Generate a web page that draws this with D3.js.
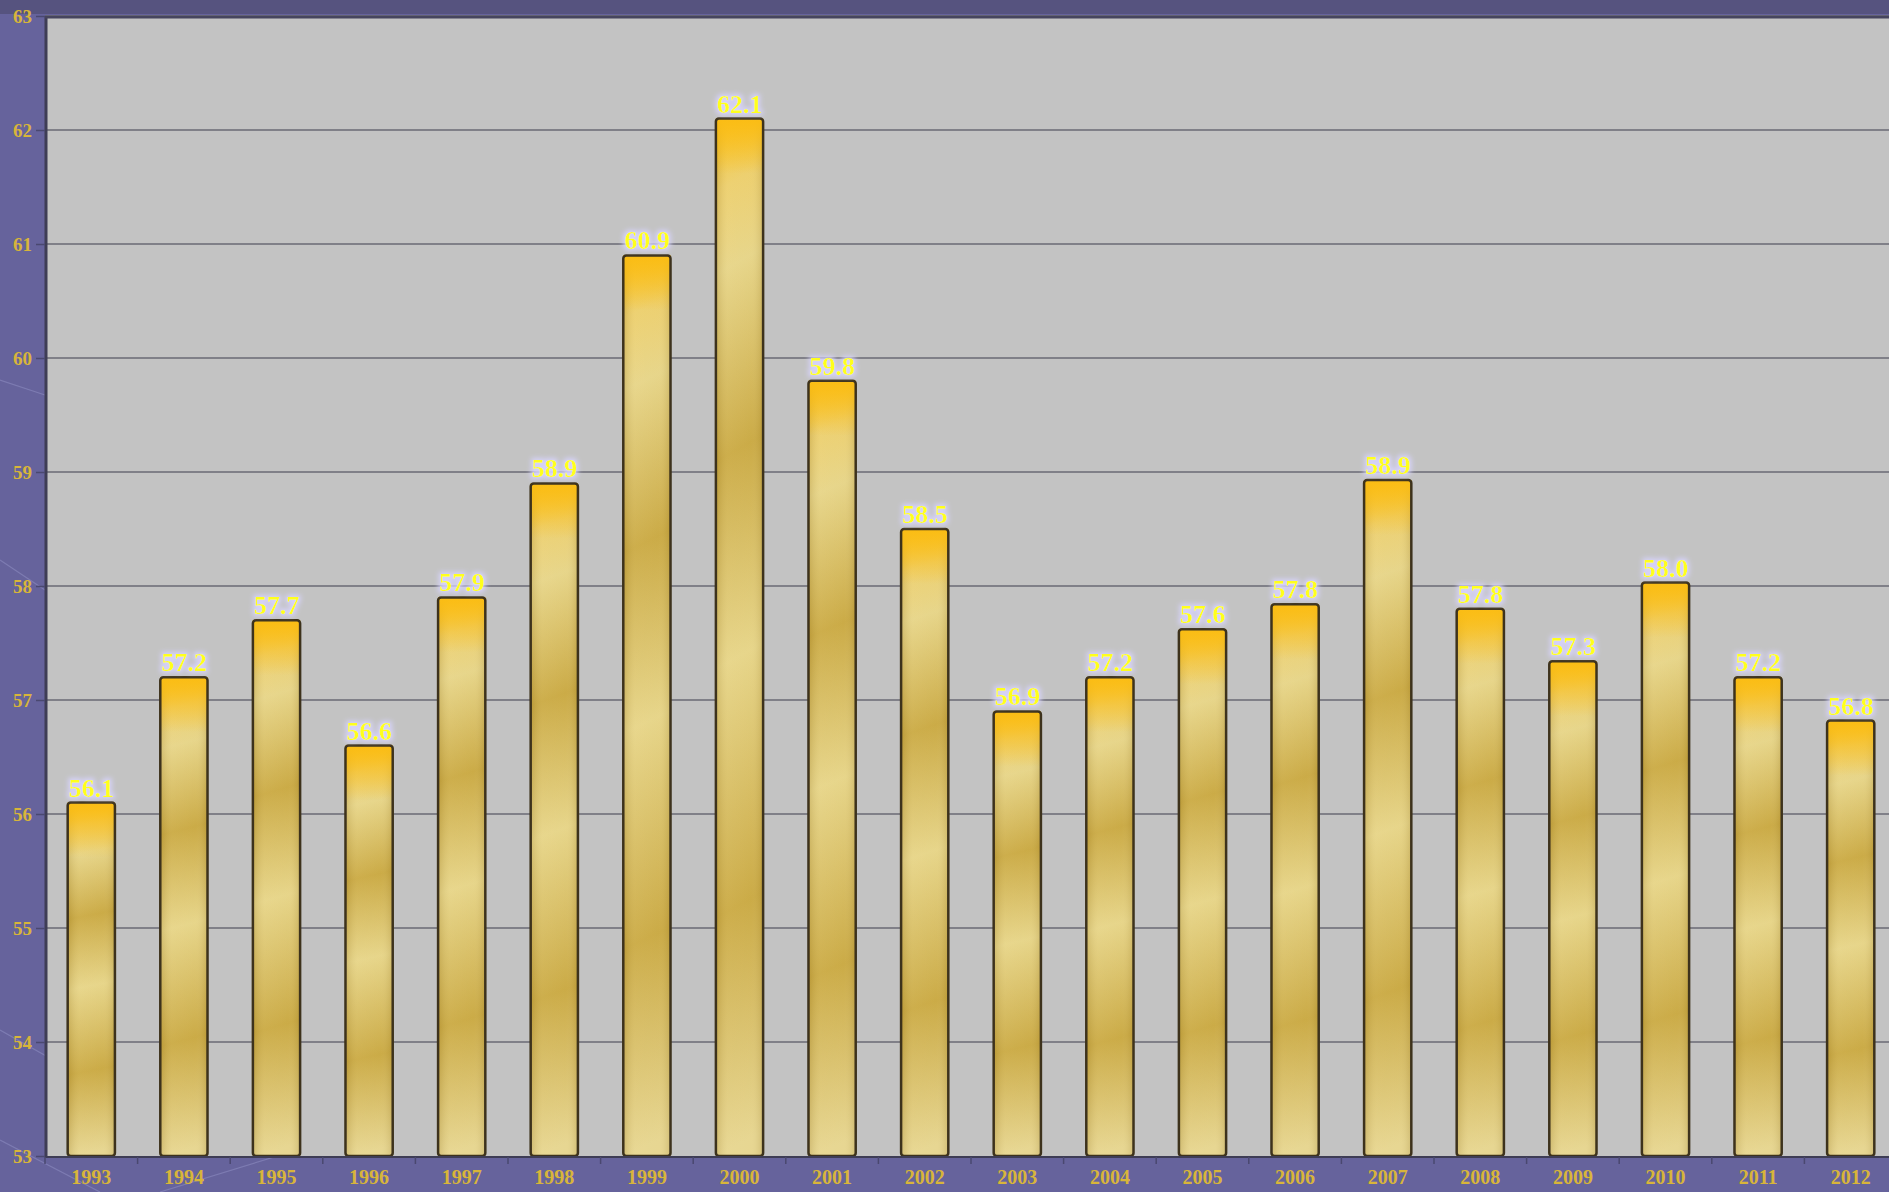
<!DOCTYPE html>
<html>
<head>
<meta charset="utf-8">
<script src="https://cdn.jsdelivr.net/npm/d3@7/dist/d3.min.js"></script>
<style>
  html, body { margin: 0; padding: 0; background: #66639c; overflow: hidden; }
  svg { display: block; }
</style>
</head>
<body>
<svg id="chart"></svg>
<script>
const years = ["1993", "1994", "1995", "1996", "1997", "1998", "1999", "2000", "2001", "2002",
  "2003", "2004", "2005", "2006", "2007", "2008", "2009", "2010", "2011", "2012"];
const values = [56.1, 57.2, 57.7, 56.6, 57.9, 58.9, 60.9, 62.1, 59.8, 58.5,
  56.9, 57.2, 57.62, 57.84, 58.93, 57.8, 57.34, 58.03, 57.2, 56.82];
const yTicks = [53, 54, 55, 56, 57, 58, 59, 60, 61, 62, 63];

const width = 1889;
const height = 1192;
const plot = { left: 45, top: 16, right: 1897, bottom: 1156 };

const svg = d3.select("#chart").attr("width", width).attr("height", height);
const defs = svg.append("defs");

// background + decorative faint lines
svg.append("rect").attr("width", width).attr("height", height).attr("fill", "#66639c");
svg.append("rect").attr("width", width).attr("height", 14).attr("fill", "#56537f");
const deco = [[0, 1030, 160, 1120], [0, 1140, 100, 1192], [160, 1192, 330, 1140], [0, 560, 45, 590], [0, 380, 45, 395]];
svg.selectAll("line.deco").data(deco).join("line")
  .attr("class", "deco")
  .attr("x1", d => d[0]).attr("y1", d => d[1]).attr("x2", d => d[2]).attr("y2", d => d[3])
  .attr("stroke", "#9a98cc").attr("stroke-opacity", 0.45).attr("stroke-width", 1.2);

const y = d3.scaleLinear().domain([53, 63]).range([plot.bottom, plot.top]);
const x = d3.scaleBand().domain(years).range([plot.left, plot.right])
  .paddingInner(0.49).paddingOuter(0.245);

// golden banded fill, stretched over each bar
const light = "#e6d488";
const dark = "#c9a842";
const bandStops = [
  [0, "#f7bf1c"], [0.07, "#ecce6c"], [0.15, light], [0.33, dark], [0.53, light],
  [0.77, dark], [1, "#e6d590"]
];
const body = defs.append("linearGradient").attr("id", "gold")
  .attr("x1", 0).attr("y1", 0).attr("x2", 0.025).attr("y2", 1);
body.selectAll("stop").data(bandStops).join("stop")
  .attr("offset", d => d[0]).attr("stop-color", d => d[1]);

const side = defs.append("linearGradient").attr("id", "side")
  .attr("x1", 0).attr("y1", 0).attr("x2", 1).attr("y2", 0);
side.append("stop").attr("offset", "0%").attr("stop-color", "#7a5a08").attr("stop-opacity", 0.2);
side.append("stop").attr("offset", "25%").attr("stop-color", "#fff4c0").attr("stop-opacity", 0.08);
side.append("stop").attr("offset", "75%").attr("stop-color", "#fff4c0").attr("stop-opacity", 0.04);
side.append("stop").attr("offset", "100%").attr("stop-color", "#7a5a08").attr("stop-opacity", 0.2);

const cap = defs.append("linearGradient").attr("id", "cap")
  .attr("x1", 0).attr("y1", 0).attr("x2", 0).attr("y2", 1);
cap.append("stop").attr("offset", "0%").attr("stop-color", "#fbbd14").attr("stop-opacity", 1);
cap.append("stop").attr("offset", "100%").attr("stop-color", "#fbbd14").attr("stop-opacity", 0);

const glow = defs.append("filter").attr("id", "glow")
  .attr("x", "-30%").attr("y", "-40%").attr("width", "160%").attr("height", "180%");
glow.append("feMorphology").attr("in", "SourceAlpha").attr("operator", "dilate").attr("radius", 1.5).attr("result", "thick");
glow.append("feGaussianBlur").attr("in", "thick").attr("stdDeviation", 2.5).attr("result", "blur");
glow.append("feFlood").attr("flood-color", "#d8d4ff").attr("flood-opacity", 0.9);
glow.append("feComposite").attr("in2", "blur").attr("operator", "in").attr("result", "halo");
const merge = glow.append("feMerge");
merge.append("feMergeNode").attr("in", "halo");
merge.append("feMergeNode").attr("in", "SourceGraphic");

// plot area
svg.append("rect")
  .attr("x", plot.left).attr("y", plot.top)
  .attr("width", plot.right - plot.left).attr("height", plot.bottom - plot.top)
  .attr("fill", "#c3c3c3");

// grid lines
svg.append("g").selectAll("line").data(yTicks.slice(1)).join("line")
  .attr("x1", plot.left).attr("x2", plot.right)
  .attr("y1", d => y(d)).attr("y2", d => y(d))
  .attr("stroke", "#808088").attr("stroke-width", 2);

// plot frame shadows (left and top edges)
svg.append("line").attr("x1", plot.left + 1).attr("x2", plot.left + 1)
  .attr("y1", plot.top).attr("y2", plot.bottom)
  .attr("stroke", "#3e3d55").attr("stroke-width", 3);
svg.append("line").attr("x1", plot.left).attr("x2", plot.right)
  .attr("y1", plot.top + 1).attr("y2", plot.top + 1)
  .attr("stroke", "#46455e").attr("stroke-width", 3);

// y axis
const yAxis = svg.append("g").attr("transform", `translate(${plot.left},0)`)
  .call(d3.axisLeft(y).tickValues(yTicks).tickSize(9).tickPadding(4).tickFormat(d3.format("d")));
yAxis.select(".domain").remove();
yAxis.selectAll(".tick line").attr("stroke", "#4a4870").attr("stroke-width", 1.5);
yAxis.selectAll(".tick text")
  .attr("fill", "#d8b53a")
  .style("font-family", "'Liberation Serif', 'DejaVu Serif', serif")
  .style("font-size", "19px")
  .style("font-weight", "bold");

// bars
const bars = svg.append("g");
const data = years.map((yr, i) => ({ year: yr, value: values[i] }));

bars.selectAll("rect.bar").data(data).join("rect")
  .attr("class", "bar")
  .attr("x", d => x(d.year)).attr("width", x.bandwidth())
  .attr("y", d => y(d.value)).attr("height", d => plot.bottom - y(d.value))
  .attr("fill", "url(#gold)");

bars.selectAll("rect.side").data(data).join("rect")
  .attr("class", "side")
  .attr("x", d => x(d.year)).attr("width", x.bandwidth())
  .attr("y", d => y(d.value)).attr("height", d => plot.bottom - y(d.value))
  .attr("fill", "url(#side)");

bars.selectAll("rect.cap").data(data).join("rect")
  .attr("class", "cap")
  .attr("x", d => x(d.year)).attr("width", x.bandwidth())
  .attr("y", d => y(d.value)).attr("height", 55)
  .attr("fill", "url(#cap)");

bars.selectAll("rect.outline").data(data).join("rect")
  .attr("class", "outline")
  .attr("x", d => x(d.year)).attr("width", x.bandwidth())
  .attr("y", d => y(d.value)).attr("height", d => plot.bottom - y(d.value))
  .attr("rx", 3)
  .attr("fill", "none").attr("stroke", "#3d321c").attr("stroke-width", 2.5);

// baseline
svg.append("line").attr("x1", plot.left).attr("x2", plot.right)
  .attr("y1", plot.bottom + 1).attr("y2", plot.bottom + 1)
  .attr("stroke", "#3e3d55").attr("stroke-width", 2);

// x axis ticks at band boundaries
const step = x.step();
svg.append("g").selectAll("line").data(years).join("line")
  .attr("x1", (d, i) => plot.left + i * step).attr("x2", (d, i) => plot.left + i * step)
  .attr("y1", plot.bottom + 1).attr("y2", plot.bottom + 8)
  .attr("stroke", "#4a4870").attr("stroke-width", 1.5);

// year labels
svg.append("g").selectAll("text").data(data).join("text")
  .attr("x", d => x(d.year) + x.bandwidth() / 2)
  .attr("y", 1184)
  .attr("text-anchor", "middle")
  .attr("fill", "#d8b53a")
  .style("font-family", "'Liberation Serif', 'DejaVu Serif', serif")
  .style("font-size", "20px")
  .style("font-weight", "bold")
  .text(d => d.year);

// value labels
svg.append("g").selectAll("text").data(data).join("text")
  .attr("x", d => x(d.year) + x.bandwidth() / 2)
  .attr("y", d => y(d.value) - 6)
  .attr("text-anchor", "middle")
  .attr("fill", "#ffff1e")
  .attr("filter", "url(#glow)")
  .style("font-family", "'Liberation Serif', 'DejaVu Serif', serif")
  .style("font-size", "26px")
  .style("font-weight", "bold")
  .text(d => d.value.toFixed(1));
</script>
</body>
</html>
